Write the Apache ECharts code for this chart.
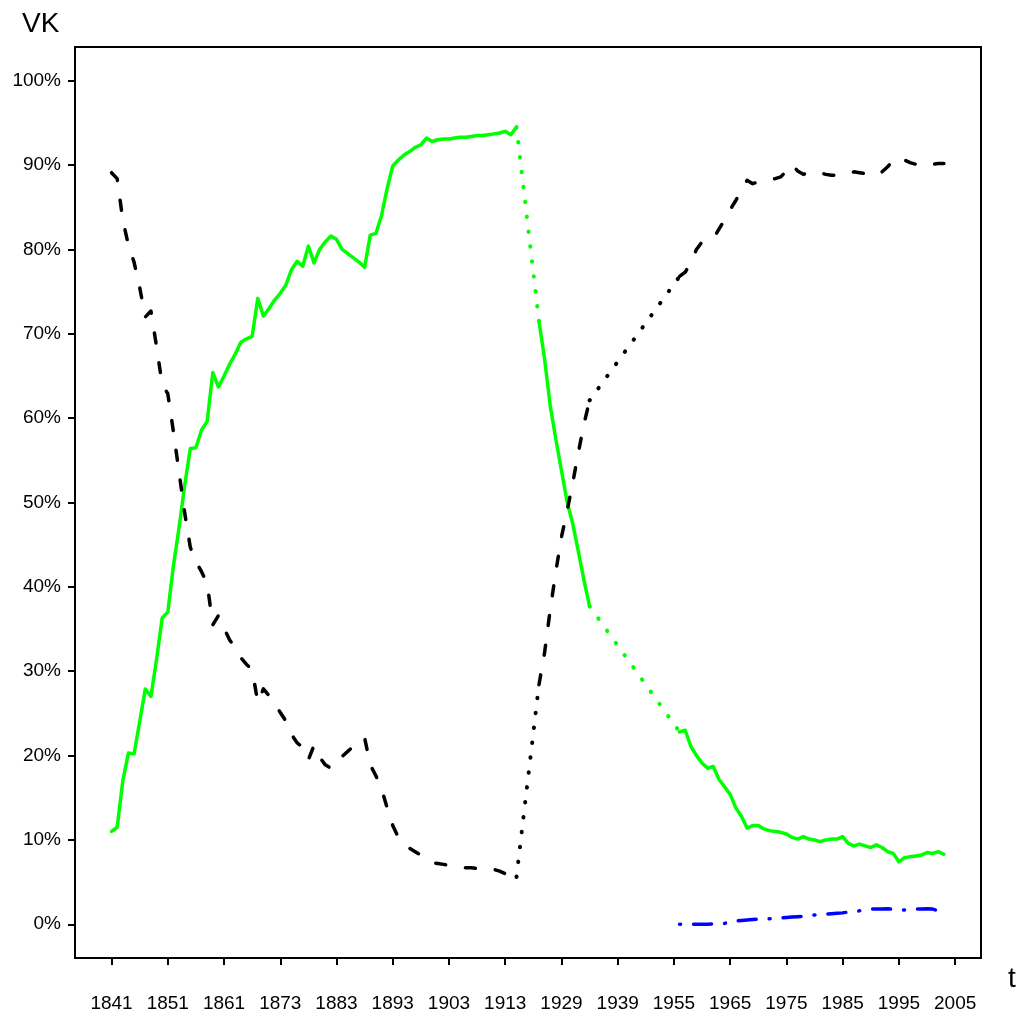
<!DOCTYPE html>
<html><head><meta charset="utf-8">
<script src="https://cdn.jsdelivr.net/npm/echarts@6/dist/echarts.min.js"></script>
<style>html,body{margin:0;padding:0;background:#fff}#c{width:1019px;height:1018px}</style>
</head><body><div id="c"></div>
<script>
// x positions are observation indices; ticks every 10 observations
const tickPositions = [0,10,20,30,40,50,60,70,80,90,100,110,120,130,140,150];
const tickLabels = ['1841','1851','1861','1873','1883','1893','1903','1913','1929','1939','1955','1965','1975','1985','1995','2005'];
const yTicks = [0,10,20,30,40,50,60,70,80,90,100];

// green series (share, %), null = missing observation
const green = [
11.0,11.5,17.0,20.3,20.2,24.0,27.9,27.0,31.4,36.3,
37.0,42.5,47.0,52.0,56.4,56.5,58.6,59.6,65.4,63.7,
65.0,66.4,67.6,69.0,69.4,69.7,74.2,72.1,73.0,74.0,
74.8,75.8,77.6,78.6,78.0,80.4,78.4,80.0,80.9,81.6,
81.2,80.0,79.5,79.0,78.5,77.9,81.7,81.9,84.0,87.2,
89.9,90.6,91.2,91.6,92.1,92.4,93.2,92.8,93.0,93.1,
93.1,93.2,93.3,93.3,93.4,93.5,93.5,93.6,93.7,93.8,
94.0,93.6,94.5,null,null,null,71.5,67.0,61.5,57.5,
53.8,50.1,47.5,44.2,40.8,37.7,null,null,null,null,
null,null,null,null,null,null,null,null,null,null,
null,22.8,23.0,21.1,20.0,19.1,18.5,18.7,17.2,16.3,
15.4,13.8,12.8,11.4,11.7,11.7,11.3,11.1,11.0,10.9,
10.7,10.3,10.1,10.4,10.1,10.0,9.8,10.0,10.1,10.1,
10.4,9.6,9.3,9.5,9.3,9.1,9.4,9.1,8.6,8.4,
7.4,7.9,8.0,8.1,8.2,8.5,8.4,8.6,8.3
];

// black series (share, %)
const black = [
89.1,88.4,83.5,80.5,78.5,75.5,72.0,72.7,68.5,64.0,
62.9,58.4,53.6,48.8,44.7,43.0,41.8,40.4,35.5,36.6,
35.1,33.7,32.8,31.6,30.8,30.2,26.3,27.9,27.1,26.2,
25.1,24.1,22.5,21.5,21.0,19.5,21.2,19.8,18.9,18.5,
18.9,19.9,20.5,21.1,21.7,22.1,18.9,17.6,16.1,13.8,
11.7,10.3,9.5,9.0,8.6,8.2,7.7,7.3,7.2,7.1,
7.0,6.9,6.8,6.7,6.7,6.6,6.6,6.6,6.5,6.3,
6.0,6.4,5.6,null,null,null,28.4,32.2,37.3,41.8,
45.9,49.0,52.3,55.9,59.3,62.1,null,null,null,null,
null,null,null,null,null,null,null,null,null,null,
null,76.8,77.3,78.4,80.0,80.9,81.1,81.3,82.4,83.5,
84.7,85.8,87.0,88.2,87.8,88.0,88.1,88.2,88.4,88.6,
89.3,90.1,89.3,88.9,89.1,89.2,89.1,88.9,88.8,88.8,
89.0,89.1,89.2,89.1,89.0,89.0,88.8,89.2,89.8,90.6,
90.9,90.6,90.3,90.1,89.9,89.9,90.1,90.2,90.2
];

// blue series starts at observation 101
const blueStart = 101;
const blue = [
0.0,0.0,0.0,0.0,0.0,0.0,0.05,0.1,0.1,0.3,
0.4,0.45,0.5,0.55,0.6,0.6,0.65,0.7,0.75,0.8,
0.85,0.9,0.95,1.0,1.1,1.15,1.2,1.25,1.3,1.35,
1.45,1.5,1.6,1.7,1.8,1.8,1.8,1.85,1.75,1.7,
1.7,1.75,1.8,1.8,1.85,1.8,1.6,1.6
];

function pts(arr, start) {
  return arr.map((v, k) => [start + k, v == null ? '-' : v]);
}
function gapLinks(arr) {
  const out = [];
  for (let i = 0; i < arr.length - 1; i++) {
    if (arr[i] != null && arr[i + 1] == null) {
      let j = i + 1;
      while (j < arr.length && arr[j] == null) j++;
      if (j < arr.length) {
        out.push([i, arr[i]], [j, arr[j]], [j + 0.5, '-']);
      }
      i = j - 1;
    }
  }
  return out;
}

const FONT = 'Liberation Sans, Arial, Helvetica, sans-serif';
const chart = echarts.init(document.getElementById('c'));
chart.setOption({
  animation: false,
  backgroundColor: '#fff',
  grid: { left: 75, right: 38, top: 47, bottom: 60, show: true, borderColor: '#000', borderWidth: 2, backgroundColor: 'transparent' },
  xAxis: {
    type: 'value', min: -6.5, max: 154.6,
    axisLine: { show: false, onZero: false },
    splitLine: { show: false },
    axisTick: { show: true, customValues: tickPositions, length: 7, inside: false, lineStyle: { color: '#000', width: 2 } },
    axisLabel: { customValues: tickPositions, margin: 36, color: '#000', fontSize: 19, fontFamily: FONT,
      formatter: v => tickLabels[tickPositions.indexOf(Math.round(v))] || '' }
  },
  yAxis: {
    type: 'value', min: -4, max: 104,
    axisLine: { show: false, onZero: false },
    splitLine: { show: false },
    axisTick: { show: true, customValues: yTicks, length: 7, inside: false, lineStyle: { color: '#000', width: 2 } },
    axisLabel: { customValues: yTicks, margin: 14, color: '#000', fontSize: 19, fontFamily: FONT,
      formatter: v => Math.round(v) + '%' }
  },
  graphic: [
    { type: 'text', left: 22, top: 10, style: { text: 'VK', fill: '#000', font: '28px ' + FONT } },
    { type: 'text', left: 1008, top: 965, style: { text: 't', fill: '#000', font: '28px ' + FONT } }
  ],
  series: [
    { type: 'line', data: pts(green, 0), showSymbol: false, symbol: 'none', connectNulls: false,
      lineStyle: { color: '#00ff00', width: 3.5, cap: 'round', join: 'round' }, z: 2 },
    { type: 'line', data: gapLinks(green), showSymbol: false, symbol: 'none', connectNulls: false,
      lineStyle: { color: '#00ff00', width: 4, type: [0.5, 14.5], cap: 'round' }, z: 2 },
    { type: 'line', data: pts(black, 0), showSymbol: false, symbol: 'none', connectNulls: false,
      lineStyle: { color: '#000', width: 3.5, type: [10, 20], cap: 'round', join: 'round' }, z: 3 },
    { type: 'line', data: gapLinks(black), showSymbol: false, symbol: 'none', connectNulls: false,
      lineStyle: { color: '#000', width: 4, type: [0.5, 14.5], cap: 'round' }, z: 3 },
    { type: 'line', data: pts(blue, blueStart), showSymbol: false, symbol: 'none', connectNulls: false,
      lineStyle: { color: '#0000ff', width: 3.5, type: [1, 13, 18, 13], cap: 'round', join: 'round' }, z: 4 }
  ]
});
</script>
</body></html>
